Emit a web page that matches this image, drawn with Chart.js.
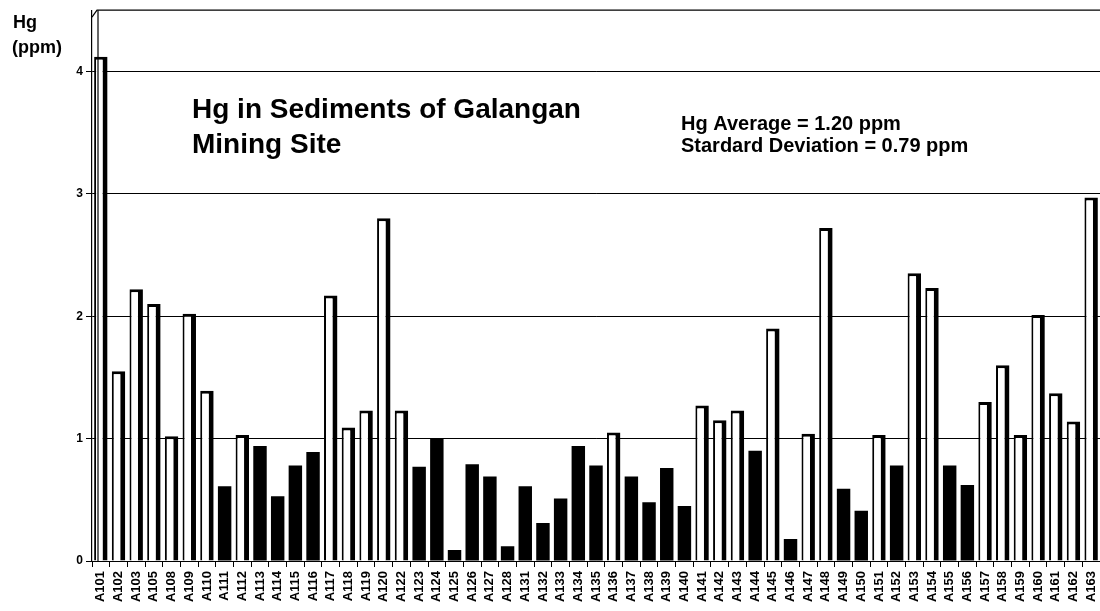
<!DOCTYPE html>
<html>
<head>
<meta charset="utf-8">
<script src="https://cdn.jsdelivr.net/npm/chart.js@4"></script>
<style>
  html, body { margin: 0; padding: 0; background: #ffffff; }
  #wrap { width: 1100px; height: 611px; position: relative; }
</style>
</head>
<body>
<div id="wrap"><canvas id="c" width="1100" height="611"></canvas></div>
<script>
const categories = ['A101','A102','A103','A105','A108','A109','A110','A111','A112','A113','A114','A115','A116','A117','A118','A119','A120','A122','A123','A124','A125','A126','A127','A128','A131','A132','A133','A134','A135','A136','A137','A138','A139','A140','A141','A142','A143','A144','A145','A146','A147','A148','A149','A150','A151','A152','A153','A154','A155','A156','A157','A158','A159','A160','A161','A162','A163'];
const hgValues = [4.12,1.55,2.22,2.10,1.02,2.02,1.39,0.61,1.03,0.94,0.53,0.78,0.89,2.17,1.09,1.23,2.80,1.23,0.77,1.00,0.09,0.79,0.69,0.12,0.61,0.31,0.51,0.94,0.78,1.05,0.69,0.48,0.76,0.45,1.27,1.15,1.23,0.90,1.90,0.18,1.04,2.72,0.59,0.41,1.03,0.78,2.35,2.23,0.78,0.62,1.30,1.60,1.03,2.01,1.37,1.14,2.97];
const yTicks = [0,1,2,3,4];
const yAxisTitle = ['Hg','(ppm)'];
const titleLines = ['Hg in Sediments of Galangan','Mining Site'];
const statLines = ['Hg Average = 1.20 ppm','Stardard Deviation = 0.79 ppm'];
const openBarThreshold = 1.0;

const FONT = '"Liberation Sans", Arial, sans-serif';

const textPlugin = {
  id: 'texts',
  afterDraw(chart) {
    const ctx = chart.ctx;
    const a = chart.chartArea;
    ctx.save();
    ctx.strokeStyle = '#000';
    ctx.lineWidth = 1.2;
    ctx.beginPath();
    ctx.moveTo(a.left, a.top + 7);
    ctx.lineTo(a.left + 5, a.top);
    ctx.lineTo(chart.width, a.top);
    ctx.stroke();
    ctx.beginPath();
    ctx.moveTo(a.left + 6, a.top);
    ctx.lineTo(a.left + 6, a.bottom);
    ctx.stroke();

    ctx.fillStyle = '#000';
    ctx.textAlign = 'left';
    ctx.textBaseline = 'alphabetic';
    ctx.font = 'bold 18px ' + FONT;
    ctx.fillText(yAxisTitle[0], 13, 28);
    ctx.fillText(yAxisTitle[1], 12, 53);

    ctx.font = 'bold 28px ' + FONT;
    ctx.fillText(titleLines[0], 192, 118);
    ctx.fillText(titleLines[1], 192, 153);

    ctx.font = 'bold 20px ' + FONT;
    ctx.fillText(statLines[0], 681, 130);
    ctx.fillText(statLines[1], 681, 152);
    ctx.restore();
  }
};

new Chart(document.getElementById('c'), {
  type: 'bar',
  data: {
    labels: categories,
    datasets: [{
      data: hgValues,
      backgroundColor: ctx => (ctx.raw > openBarThreshold ? '#ffffff' : '#000000'),
      borderColor: '#000000',
      borderWidth: ctx => (ctx.raw > openBarThreshold ? {left: 2, top: 3, right: 5, bottom: 0} : 0),
      borderSkipped: false,
      categoryPercentage: 1.0,
      barPercentage: 0.76
    }]
  },
  options: {
    responsive: false,
    animation: false,
    devicePixelRatio: 1,
    layout: { padding: { top: 10, right: 0, left: 0, bottom: 0 } },
    plugins: { legend: { display: false }, tooltip: { enabled: false }, title: { display: false } },
    scales: {
      x: {
        afterFit: s => { s.height = 50; s.paddingRight = 0; s.paddingLeft = 0; },
        grid: { offset: true, drawOnChartArea: false, drawTicks: true, tickLength: 6, color: '#000' },
        border: { display: true, color: '#000', width: 1 },
        ticks: {
          autoSkip: false, maxRotation: 90, minRotation: 90, padding: 4,
          color: '#000', font: { family: FONT, weight: 'bold', size: 13 }
        }
      },
      y: {
        min: 0, max: 4.5,
        afterFit: s => { s.width = 92; },
        afterBuildTicks: s => { s.ticks = yTicks.map(v => ({ value: v })); },
        grid: { color: '#000', lineWidth: 1, tickLength: 6, drawTicks: true },
        border: { display: true, color: '#000', width: 1.2 },
        ticks: {
          padding: 3, color: '#000',
          font: { family: FONT, weight: 'bold', size: 12 }
        }
      }
    }
  },
  plugins: [textPlugin]
});
</script>
</body>
</html>
